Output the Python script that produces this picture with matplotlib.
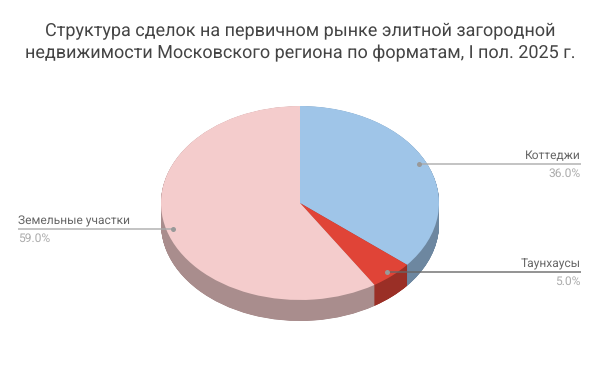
import numpy as np
import matplotlib
matplotlib.use("Agg")
import matplotlib.pyplot as plt

title_lines = ["Структура сделок на первичном рынке элитной загородной",
               "недвижимости Московского региона по форматам, I пол. 2025 г."]
categories = ["Коттеджи", "Таунхаусы", "Земельные участки"]
values = [36.0, 5.0, 59.0]
top_colors = ["#9FC5E8", "#E04437", "#F4CCCC"]
side_colors = ["#6D87A0", "#9A2F26", "#A98D8D"]

W, H = 600, 371
cx, cy, rx, ry, depth = 300, 203, 139, 97, 21

plt.rcParams["font.family"] = ["Roboto", "DejaVu Sans"]
plt.rcParams["text.hinting"] = "no_hinting"
plt.rcParams["text.hinting_factor"] = 1
fig = plt.figure(figsize=(W / 100, H / 100), dpi=100, facecolor="white")
ax = fig.add_axes([0, 0, 1, 1])

def px(x, y):
    return (x - cx) / rx, (cy - y) / ry

for d in np.arange(depth, 0, -0.25):
    ax.pie(values, colors=side_colors, startangle=90, counterclock=False,
           radius=1, center=(0, -d / ry), wedgeprops=dict(linewidth=0))
ax.pie(values, colors=top_colors, startangle=90, counterclock=False,
       radius=1, center=(0, 0), wedgeprops=dict(linewidth=0))

ax.set_aspect("auto")
ax.set_xlim(px(0, 0)[0], px(W, 0)[0])
ax.set_ylim(px(0, H)[1], px(0, 0)[1])
ax.axis("off")

# label layout: dot x, line y, line end x, anchor
layout = [(419, 164, 581, "right", "#AAAAAA"), (387, 272, 581, "right", "#666666"), (173, 229, 18, "left", "#AAAAAA")]
for (name, val, (dx, ly, ex, ha, lc)) in zip(categories, values, layout):
    x0, y0 = px(dx, ly)
    x1, _ = px(ex, ly)
    ax.plot([x0, x1], [y0, y0], color=lc, lw=1.1, alpha=0.9, solid_capstyle="butt", zorder=20)
    ax.plot([x0], [y0], "o", color="#999999", ms=3.6, mew=0, zorder=21)
    tx = ex / W
    fig.text(tx, 1 - (ly - 8) / H, name, ha=ha, va="center", fontsize=8.6, color="#666666")
    fig.text(tx, 1 - (ly + 10) / H, f"{val:.1f}%", ha=ha, va="center", fontsize=8.6, color="#ABABAB")

for line, y in zip(title_lines, (30, 53)):
    fig.text(0.5, 1 - y / H, line, ha="center", va="center", fontsize=12.75, color="#444444")

fig.savefig("out.png", dpi=100, facecolor="white")
